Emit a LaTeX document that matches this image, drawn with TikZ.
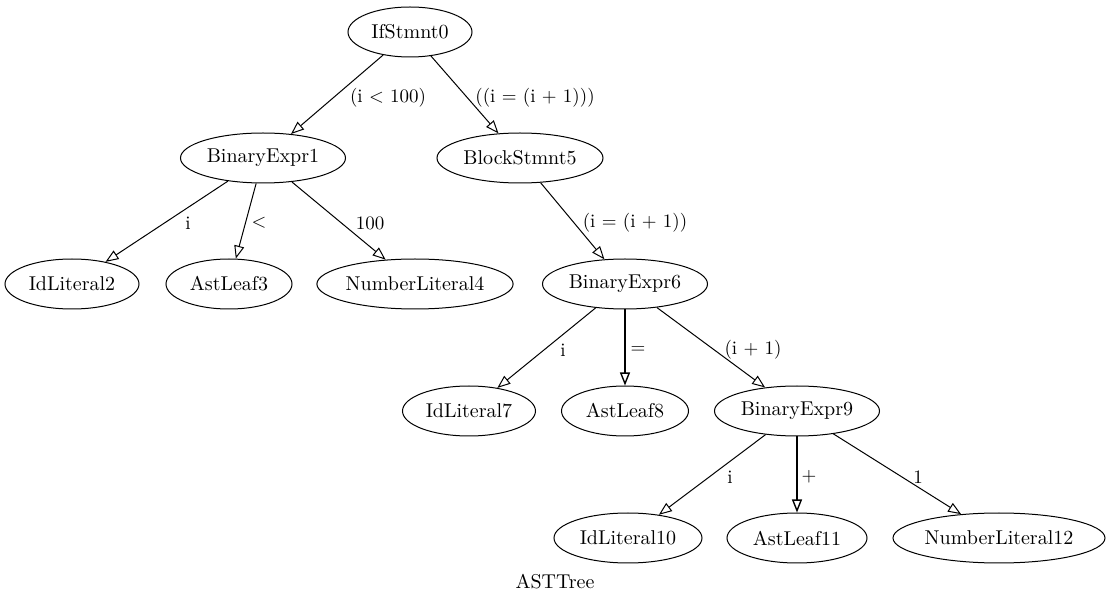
\documentclass[tikz,border=0pt]{standalone}
\usetikzlibrary{shapes.geometric,arrows.meta}
\begin{document}
\begin{tikzpicture}[x=0.5pt,y=-0.5pt,
  every node/.style={font=\fontsize{10pt}{12pt}\selectfont},
  astnode/.style={ellipse,draw,line width=0.5pt,minimum height=25pt,inner sep=0pt},
  lbl/.style={inner sep=0pt,font=\fontsize{9.5pt}{11pt}\selectfont},
  edge/.style={draw,line width=0.5pt,-{Triangle[open,length=6.5pt,width=5pt]}},
  vedge/.style={edge,line width=0.7pt}]
\useasboundingbox (0,0) rectangle (1110,604);
\node[astnode,minimum width=62pt] (n0) at (410,32) {IfStmnt0};
\node[astnode,minimum width=82.5pt] (n1) at (263,158) {BinaryExpr1};
\node[astnode,minimum width=83pt] (n5) at (520,158) {BlockStmnt5};
\node[astnode,minimum width=67pt] (n2) at (72,284) {IdLiteral2};
\node[astnode,minimum width=63pt] (n3) at (229,284) {AstLeaf3};
\node[astnode,minimum width=98pt] (n4) at (415,284) {NumberLiteral4};
\node[astnode,minimum width=82.5pt] (n6) at (625,284) {BinaryExpr6};
\node[astnode,minimum width=66.5pt] (n7) at (469,411) {IdLiteral7};
\node[astnode,minimum width=63.5pt] (n8) at (625,411) {AstLeaf8};
\node[astnode,minimum width=82.5pt] (n9) at (797,411) {BinaryExpr9};
\node[astnode,minimum width=74pt] (n10) at (628,538) {IdLiteral10};
\node[astnode,minimum width=70pt] (n11) at (797,538) {AstLeaf11};
\node[astnode,minimum width=106pt] (n12) at (999,538) {NumberLiteral12};
\node[inner sep=0pt] (title) at (555,582) {ASTTree};

\draw[edge] (n0) -- (n1);
\draw[edge] (n0) -- (n5);
\draw[edge] (n1) -- (n2);
\draw[edge] (n1) -- (n3);
\draw[edge] (n1) -- (n4);
\draw[edge] (n5) -- (n6);
\draw[edge] (n6) -- (n7);
\draw[vedge] (n6) -- (n8);
\draw[edge] (n6) -- (n9);
\draw[edge] (n9) -- (n10);
\draw[vedge] (n9) -- (n11);
\draw[edge] (n9) -- (n12);

\node[lbl] (l01) at (388,98) {(i < 100)};
\node[lbl] (l05) at (535,98) {((i = (i + 1)))};
\node[lbl] (l12) at (188,223) {i};
\node[lbl] (l13) at (259,223) {<};
\node[lbl] (l14) at (370,223) {100};
\node[lbl] (l56) at (635,223) {(i = (i + 1))};
\node[lbl] (l67) at (563,350) {i};
\node[lbl] (l68) at (638,350) {=};
\node[lbl] (l69) at (753,350) {(i + 1)};
\node[lbl] (l910) at (730,477) {i};
\node[lbl] (l911) at (809,477) {+};
\node[lbl] (l912) at (918,477) {1};
\end{tikzpicture}
\end{document}
